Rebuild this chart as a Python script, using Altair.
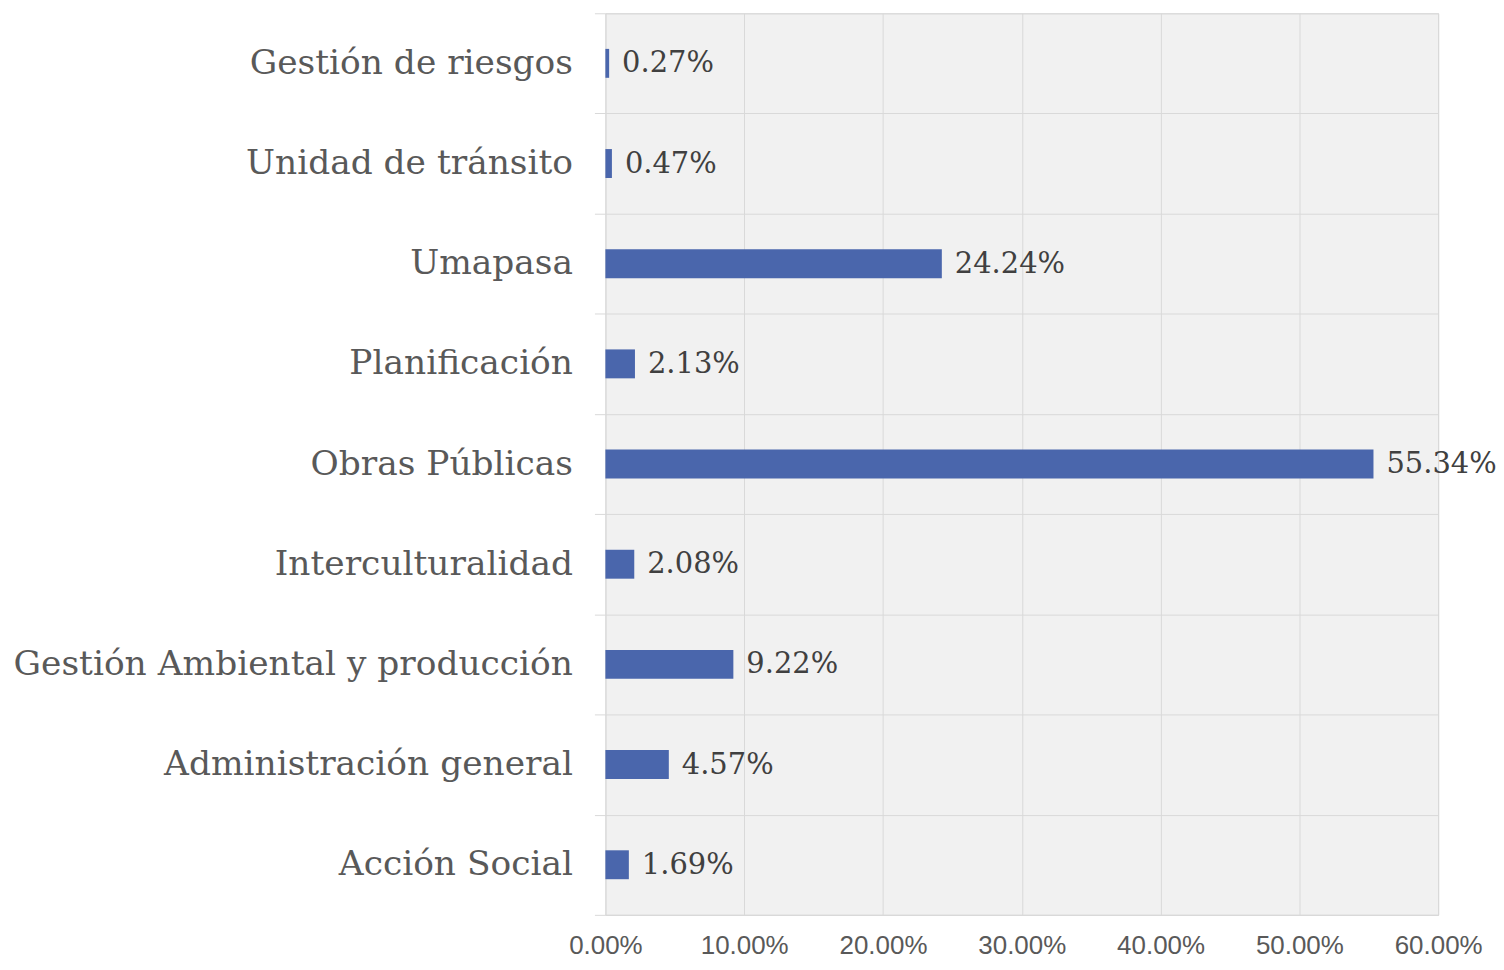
import altair as alt
import pandas as pd

categories = ["Gestión de riesgos", "Unidad de tránsito", "Umapasa", "Planificación",
              "Obras Públicas", "Interculturalidad", "Gestión Ambiental y producción",
              "Administración general", "Acción Social"]
values = [0.0027, 0.0047, 0.2424, 0.0213, 0.5534, 0.0208, 0.0922, 0.0457, 0.0169]
x_ticks = [0.0, 0.1, 0.2, 0.3, 0.4, 0.5, 0.6]

df = pd.DataFrame({"cat": categories, "val": values})

GRID = "#d9d9d9"
SERIF = "DejaVu Serif"

y_enc = alt.Y("cat:N", sort=categories, title=None,
              scale=alt.Scale(paddingInner=0, paddingOuter=0),
              axis=alt.Axis(tickBand="extent", grid=True, gridColor=GRID, ticks=True,
                            tickSize=11, tickColor=GRID, domain=False,
                            labelFont=SERIF, labelFontSize=34.5, labelColor="#595959",
                            labelPadding=22, labelLimit=700))
x_enc = alt.X("val:Q", title=None,
              scale=alt.Scale(domain=[0, 0.6], nice=False),
              axis=alt.Axis(values=x_ticks, format=".2%", grid=True, gridColor=GRID,
                            domainColor=GRID, ticks=False, labelFont="Liberation Sans",
                            labelFontSize=26, labelColor="#595959", labelPadding=18,
                            labelFlush=False))

bars = alt.Chart(df).mark_bar(size=29, color="#4a66ac").encode(x=x_enc, y=y_enc)
labels = alt.Chart(df).mark_text(align="left", baseline="middle", dx=13, font=SERIF,
                                 fontSize=29, color="#404040").encode(
    x=alt.X("val:Q"), y=alt.Y("cat:N", sort=categories),
    text=alt.Text("val:Q", format=".2%"))

chart = (bars + labels).properties(
    width=835, height=904,
    autosize=alt.AutoSizeParams(type="none"),
    padding={"left": 599, "top": 4, "right": 58, "bottom": 42},
).configure_view(fill="#f1f1f1", stroke=GRID)

chart.save("out.html", embed_options={"renderer": "svg", "actions": False})
